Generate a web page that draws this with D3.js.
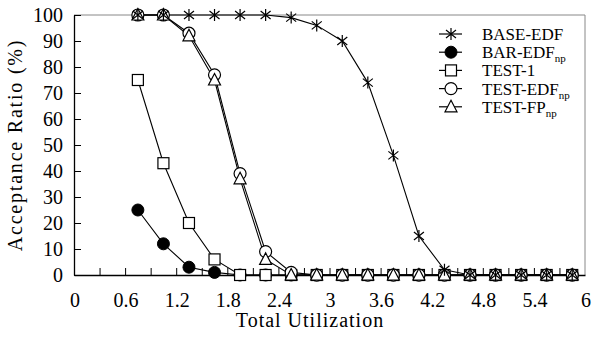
<!DOCTYPE html>
<html>
<head>
<meta charset="utf-8">
<script src="https://cdn.jsdelivr.net/npm/d3@7"></script>
<style>
  body { margin: 0; background: #fff; }
  svg text { font-family: "Liberation Serif", "Times New Roman", serif; fill: #000; }
</style>
</head>
<body>
<svg id="chart"></svg>
<script>
var utilization = [0.75, 1.05, 1.35, 1.65, 1.95, 2.25, 2.55, 2.85, 3.15, 3.45, 3.75, 4.05, 4.35, 4.65, 4.95, 5.25, 5.55, 5.85];
var baseEdf  = [100, 100, 100, 100, 100, 100, 99, 96, 90, 74, 46, 15, 2, 0, 0, 0, 0, 0];
var barEdfNp = [25, 12, 3, 1, 0, 0, 0, 0, 0, 0, 0, 0, 0, 0, 0, 0, 0, 0];
var test1    = [75, 43, 20, 6, 0, 0, 0, 0, 0, 0, 0, 0, 0, 0, 0, 0, 0, 0];
var testEdfNp = [100, 100, 93, 77, 39, 9, 1, 0, 0, 0, 0, 0, 0, 0, 0, 0, 0, 0];
var testFpNp = [100, 100, 92, 75, 37, 6, 0, 0, 0, 0, 0, 0, 0, 0, 0, 0, 0, 0];
var xTickLabels = [0, 0.6, 1.2, 1.8, 2.4, 3, 3.6, 4.2, 4.8, 5.4, 6];
var yTickLabels = [0, 10, 20, 30, 40, 50, 60, 70, 80, 90, 100];

// drawing order: later series sit on top
var series = [
  {name: "BAR-EDF", sub: "np", marker: "dot", values: barEdfNp},
  {name: "TEST-1", sub: "", marker: "square", values: test1},
  {name: "TEST-EDF", sub: "np", marker: "circle", values: testEdfNp},
  {name: "TEST-FP", sub: "np", marker: "triangle", values: testFpNp},
  {name: "BASE-EDF", sub: "", marker: "star", values: baseEdf}
];
var legendOrder = ["BASE-EDF", "BAR-EDF", "TEST-1", "TEST-EDF", "TEST-FP"];

var width = 594;
var height = 340;
var plotLeft = 74, plotRight = 585, plotTop = 15, plotBottom = 275;

var svg = d3.select("#chart")
  .attr("width", width)
  .attr("height", height);

var x = d3.scaleLinear().domain([0, 6]).range([plotLeft, plotRight]);
var y = d3.scaleLinear().domain([0, 100]).range([plotBottom, plotTop]);

// grey frame on top and right
svg.append("path")
  .attr("d", "M" + plotLeft + "," + plotTop + "H" + plotRight + "V" + plotBottom)
  .attr("fill", "none")
  .attr("stroke", "#888")
  .attr("stroke-width", 1);

// x axis, minor ticks every 0.3 pointing up
var xAxis = d3.axisBottom(x)
  .tickValues(d3.range(1, 20).map(function(i){ return i * 0.3; }))
  .tickSizeInner(-7)
  .tickSizeOuter(0)
  .tickFormat("");
svg.append("g")
  .attr("transform", "translate(0," + plotBottom + ")")
  .call(xAxis)
  .call(function(g){
    g.select(".domain").attr("stroke", "#000").attr("stroke-width", 1.3);
    g.selectAll(".tick line").attr("stroke", "#000").attr("stroke-width", 1);
  });

svg.selectAll(".xlabel")
  .data(xTickLabels)
  .enter()
  .append("text")
  .attr("class", "xlabel")
  .attr("x", function(d){ return x(d) + 1; })
  .attr("y", 307)
  .attr("text-anchor", "middle")
  .attr("font-size", "20px")
  .text(function(d){ return d; });

// y axis, ticks pointing right
var yAxis = d3.axisLeft(y)
  .tickValues(yTickLabels)
  .tickSizeInner(-7)
  .tickSizeOuter(0)
  .tickPadding(11)
  .tickFormat(function(d){ return d; });
svg.append("g")
  .attr("transform", "translate(" + plotLeft + ",0)")
  .call(yAxis)
  .call(function(g){
    g.select(".domain").attr("stroke", "#000").attr("stroke-width", 1.3);
    g.selectAll(".tick line").attr("stroke", "#000").attr("stroke-width", 1);
    g.selectAll(".tick text")
      .attr("font-family", "Liberation Serif, serif")
      .attr("font-size", "20px")
      .attr("fill", "#000");
  });

// axis titles
svg.append("text")
  .attr("x", 310)
  .attr("y", 327)
  .attr("text-anchor", "middle")
  .attr("font-size", "20px")
  .attr("letter-spacing", "1px")
  .text("Total Utilization");

svg.append("text")
  .attr("transform", "translate(22,145) rotate(-90)")
  .attr("text-anchor", "middle")
  .attr("font-size", "20px")
  .attr("letter-spacing", "1.8px")
  .text("Acceptance Ratio (%)");

var line = d3.line()
  .x(function(d){ return x(d[0]); })
  .y(function(d){ return y(d[1]); });

var drawMarker = function(g, type){
  if (type == "dot") {
    g.append("circle").attr("r", 6).attr("fill", "#000").attr("stroke", "#000");
  } else if (type == "circle") {
    g.append("circle").attr("r", 6).attr("fill", "#fff").attr("stroke", "#000").attr("stroke-width", 1.2);
  } else if (type == "square") {
    g.append("rect").attr("x", -5.5).attr("y", -5.5).attr("width", 11).attr("height", 11)
      .attr("fill", "#fff").attr("stroke", "#000").attr("stroke-width", 1.2);
  } else if (type == "triangle") {
    g.append("path").attr("d", "M0,-6.5L6,5L-6,5Z")
      .attr("fill", "#fff").attr("stroke", "#000").attr("stroke-width", 1.2);
  } else if (type == "star") {
    g.append("path").attr("d", "M0,-6V6M-5,-4L5,4M-5,4L5,-4")
      .attr("fill", "none").attr("stroke", "#000").attr("stroke-width", 1.2);
  }
};

series.forEach(function(s){
  var pts = utilization.map(function(u, i){ return [u, s.values[i]]; });
  svg.append("path")
    .datum(pts)
    .attr("d", line)
    .attr("fill", "none")
    .attr("stroke", "#000")
    .attr("stroke-width", 1.1);
});

series.forEach(function(s){
  var pts = utilization.map(function(u, i){ return [u, s.values[i]]; });
  svg.selectAll(".m-" + s.marker)
    .data(pts)
    .enter()
    .append("g")
    .attr("class", "m-" + s.marker)
    .attr("transform", function(d){ return "translate(" + x(d[0]) + "," + y(d[1]) + ")"; })
    .each(function(){ drawMarker(d3.select(this), s.marker); });
});

// legend
var legend = svg.selectAll(".legend")
  .data(legendOrder.map(function(n){ return series.find(function(s){ return s.name == n; }); }))
  .enter()
  .append("g")
  .attr("class", "legend")
  .attr("transform", function(d, i){ return "translate(451," + (34 + i * 18.2) + ")"; });

legend.append("line")
  .attr("x1", -12).attr("x2", 11)
  .attr("stroke", "#000").attr("stroke-width", 1.2);

legend.each(function(d){ drawMarker(d3.select(this), d.marker); });

var ltext = legend.append("text")
  .attr("x", 31)
  .attr("y", 6)
  .attr("font-size", "17px")
  .text(function(d){ return d.name; });
ltext.filter(function(d){ return d.sub != ""; })
  .append("tspan")
  .attr("font-size", "11px")
  .attr("dy", 4)
  .text(function(d){ return d.sub; });
</script>
</body>
</html>
